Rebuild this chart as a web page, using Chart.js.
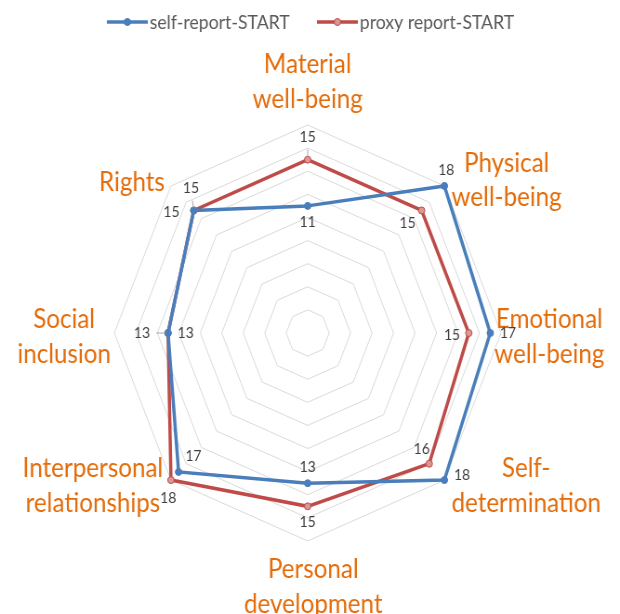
<!DOCTYPE html>
<html>
<head>
<meta charset="utf-8">
<script src="https://cdn.jsdelivr.net/npm/chart.js@4.4.1/dist/chart.umd.min.js"></script>
<style>
  html, body { margin: 0; padding: 0; background: #fff; overflow: hidden; }
  #wrap { width: 667px; height: 614px; transform: scaleX(0.9295); transform-origin: 0 0; }
</style>
</head>
<body>
<div id="wrap"><canvas id="radar" width="667" height="614"></canvas></div>
<script>
// Axes du radar (sens horaire depuis le haut)
const categories = [
    ['Material', 'well-being'],
    ['Physical', 'well-being'],
    ['Emotional', 'well-being'],
    ['Self-', 'determination'],
    ['Personal', 'development'],
    ['Interpersonal', 'relationships'],
    ['Social', 'inclusion'],
    ['Rights']
];

// Valeurs
const selfReport = [11, 18, 17, 18, 13, 17, 13, 15];
const proxyReport = [15, 15, 15, 16, 15, 18, 13, 15];

// Graduations (0 à 18, pas de 2)
const tickMin = 0;
const tickMax = 18;
const tickStep = 2;

const seriesNames = ['self-report-START', 'proxy report-START'];

// Décalage des étiquettes de valeur par rapport au point [dx, dy, trait de rappel]
const valueOffsets = [
    [[0, 16], [2, -16], [19, 0], [19, -5], [0, -16], [16, -16], [19, 0], [-24, 2]],
    [[0, -23, 1], [-15, 13], [-18, 2], [-8, -15], [0, 16], [-3, 18], [-28, 0, 1], [-3, -22, 1]]
];

// Position des noms d'axes par rapport au sommet extérieur [dx centre, dy 1re ligne de base]
const axisLabelOffsets = [
    [0, -52], [67, -14], [52, -5], [88, -3], [6, 37], [-84, -3], [-54, -5], [-42, 5]
];

const blue = '#4A7EBB';
const red = '#BE4B48';
const redFill = '#D99795';
const orange = '#E46C0A';
const font = "Lato, 'Open Sans', sans-serif";

// Noms d'axes, étiquettes de valeur et légende
const annotations = {
    id: 'annotations',
    afterDatasetsDraw(chart) {
        const ctx = chart.ctx;
        const scale = chart.scales.r;
        ctx.save();

        // Noms des axes
        ctx.font = '26px ' + font;
        ctx.fillStyle = orange;
        ctx.textAlign = 'center';
        ctx.textBaseline = 'alphabetic';
        categories.forEach((lines, i) => {
            const p = scale.getPointPosition(i, scale.drawingArea);
            const off = axisLabelOffsets[i];
            lines.forEach((txt, k) => {
                ctx.fillText(txt, p.x + off[0], p.y + off[1] + k * 34.5);
            });
        });

        // Valeurs à côté des points
        ctx.font = '15px ' + font;
        ctx.fillStyle = '#404040';
        ctx.textBaseline = 'middle';
        chart.data.datasets.forEach((ds, di) => {
            const meta = chart.getDatasetMeta(di);
            meta.data.forEach((pt, i) => {
                const off = valueOffsets[di][i];
                if (off[2]) {
                    ctx.strokeStyle = '#A6A6A6';
                    ctx.lineWidth = 1;
                    ctx.beginPath();
                    ctx.moveTo(pt.x + off[0] * 0.45, pt.y + off[1] * 0.45);
                    ctx.lineTo(pt.x + off[0] * 0.12, pt.y + off[1] * 0.12);
                    ctx.stroke();
                }
                ctx.fillText(ds.data[i], pt.x + off[0], pt.y + off[1]);
            });
        });

        // Légende (trait + point)
        const legendY = 22;
        const legendX = [115, 341];
        ctx.font = '19px ' + font;
        ctx.textAlign = 'left';
        chart.data.datasets.forEach((ds, di) => {
            const x0 = legendX[di];
            ctx.strokeStyle = ds.borderColor;
            ctx.lineWidth = 3.5;
            ctx.beginPath();
            ctx.moveTo(x0, legendY);
            ctx.lineTo(x0 + 44, legendY);
            ctx.stroke();
            ctx.fillStyle = ds.pointBackgroundColor;
            ctx.lineWidth = 1;
            ctx.beginPath();
            ctx.arc(x0 + 22, legendY, 3.5, 0, Math.PI * 2);
            ctx.fill();
            ctx.stroke();
            ctx.fillStyle = '#595959';
            ctx.fillText(ds.label, x0 + 46, legendY + 1);
        });

        ctx.restore();
    }
};

const ctx = document.getElementById('radar').getContext('2d');

new Chart(ctx, {
    type: 'radar',
    data: {
        labels: categories,
        datasets: [{
            label: seriesNames[0],
            data: selfReport,
            borderColor: blue,
            backgroundColor: 'rgba(0,0,0,0)',
            borderWidth: 3.5,
            pointRadius: 3.5,
            pointBackgroundColor: blue,
            pointBorderColor: blue,
            pointBorderWidth: 1,
            fill: false
        }, {
            label: seriesNames[1],
            data: proxyReport,
            borderColor: red,
            backgroundColor: 'rgba(0,0,0,0)',
            borderWidth: 3.5,
            pointRadius: 3.5,
            pointBackgroundColor: redFill,
            pointBorderColor: red,
            pointBorderWidth: 1,
            fill: false
        }]
    },
    options: {
        responsive: false,
        animation: false,
        layout: {
            padding: { top: 125, bottom: 73, left: 123, right: 128 }
        },
        scales: {
            r: {
                min: tickMin,
                max: tickMax,
                ticks: {
                    stepSize: tickStep,
                    display: false
                },
                grid: {
                    color: '#D9D9D9',
                    lineWidth: 1
                },
                angleLines: {
                    display: false
                },
                pointLabels: {
                    display: false
                }
            }
        },
        plugins: {
            legend: {
                display: false
            },
            tooltip: {
                enabled: false
            }
        }
    },
    plugins: [annotations]
});
</script>
</body>
</html>
